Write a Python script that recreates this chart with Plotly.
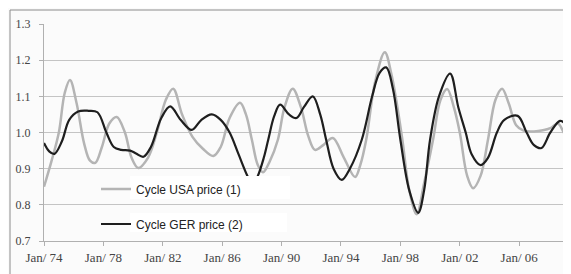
import plotly.graph_objects as go
from datetime import datetime, timedelta

# ---- data (decimal years / index values) ----
usa_years = [1974.0, 1974.5, 1975.0, 1975.4, 1975.75, 1976.2, 1976.7, 1977.1, 1977.45, 1977.9,
             1978.4, 1978.9, 1979.45, 1979.9, 1980.35, 1981.0, 1981.6, 1982.2, 1982.7, 1983.3,
             1984.0, 1984.7, 1985.4, 1985.9, 1986.5, 1987.2, 1987.6, 1988.0, 1988.4, 1988.75,
             1989.2, 1989.75, 1990.2, 1990.75, 1991.3, 1991.8, 1992.25, 1992.8, 1993.45, 1994.2,
             1994.95, 1995.3, 1995.7, 1996.3, 1996.95, 1997.4, 1998.1, 1998.6, 1999.1, 1999.6,
             2000.2, 2000.7, 2001.15, 2001.6, 2002.0, 2002.5, 2002.9, 2003.4, 2003.9, 2004.4,
             2004.85, 2005.3, 2005.8, 2006.3, 2007.0, 2007.6, 2008.1, 2008.6, 2009.0, 2009.5]
usa_values = [0.85, 0.92, 1.0, 1.11, 1.145, 1.08, 0.97, 0.922, 0.916, 0.96,
              1.025, 1.043, 1.0, 0.93, 0.902, 0.93, 1.0, 1.09, 1.121, 1.05,
              0.988, 0.955, 0.935, 0.96, 1.04, 1.082, 1.05, 0.98, 0.91, 0.89,
              0.92, 0.98, 1.07, 1.121, 1.07, 0.99, 0.952, 0.965, 0.985, 0.93,
              0.877, 0.91, 0.98, 1.14, 1.222, 1.16, 0.99, 0.84, 0.774, 0.86,
              0.98, 1.09, 1.12, 1.07, 1.0, 0.88, 0.846, 0.88, 0.98, 1.09,
              1.121, 1.08, 1.02, 1.005, 1.003, 1.006, 1.012, 1.025, 1.0, 0.952]

ger_years = [1974.0, 1974.35, 1974.7, 1975.2, 1975.7, 1976.3, 1977.0, 1977.6, 1978.2, 1978.7,
             1979.2, 1979.8, 1980.2, 1980.7, 1981.2, 1981.9, 1982.5, 1983.2, 1983.95, 1984.6,
             1985.3, 1985.9, 1986.5, 1987.1, 1987.7, 1988.05, 1988.4, 1988.8, 1989.1, 1989.5,
             1989.9, 1990.5, 1991.0, 1991.5, 1992.1, 1992.6, 1993.0, 1993.5, 1994.05, 1994.6,
             1995.4, 1996.1, 1996.6, 1997.05, 1997.5, 1998.0, 1998.6, 1999.2, 1999.6, 2000.0,
             2000.6, 2001.35, 2001.9, 2002.4, 2002.8, 2003.4, 2003.9, 2004.5, 2005.0, 2005.9,
             2006.5, 2007.0, 2007.5, 2008.1, 2008.75, 2009.1, 2009.5]
ger_values = [0.971, 0.948, 0.941, 0.975, 1.035, 1.058, 1.06, 1.056, 1.0, 0.96,
              0.952, 0.95, 0.942, 0.933, 0.96, 1.04, 1.072, 1.035, 1.007, 1.035,
              1.05, 1.035, 1.0, 0.94, 0.88, 0.855, 0.88, 0.93, 0.98, 1.045,
              1.077, 1.05, 1.04, 1.07, 1.1, 1.05, 0.98, 0.9, 0.869, 0.9,
              0.98, 1.1, 1.165, 1.18, 1.12, 0.98, 0.84, 0.778, 0.84, 0.98,
              1.1, 1.163, 1.07, 1.0, 0.94, 0.91, 0.93, 1.0, 1.035, 1.046,
              1.0, 0.965, 0.957, 1.0, 1.032, 1.025, 1.005]

tick_years = [1974, 1978, 1982, 1986, 1990, 1994, 1998, 2002, 2006]
tick_labels = ["Jan/ 74", "Jan/ 78", "Jan/ 82", "Jan/ 86", "Jan/ 90",
               "Jan/ 94", "Jan/ 98", "Jan/ 02", "Jan/ 06"]
y_ticks = [0.7, 0.8, 0.9, 1.0, 1.1, 1.2, 1.3]
series_names = ["Cycle USA price (1)", "Cycle GER price (2)"]


def to_date(y):
    yi = int(y)
    start = datetime(yi, 1, 1)
    end = datetime(yi + 1, 1, 1)
    return start + timedelta(seconds=(end - start).total_seconds() * (y - yi))


fig = go.Figure()
fig.add_trace(go.Scatter(
    x=[to_date(v) for v in usa_years], y=usa_values, mode="lines",
    name=series_names[0], line=dict(color="#b4b4b4", width=2.5, shape="spline", smoothing=1.0),
    legend="legend"))
fig.add_trace(go.Scatter(
    x=[to_date(v) for v in ger_years], y=ger_values, mode="lines",
    name=series_names[1], line=dict(color="#1e1e1e", width=2.2, shape="spline", smoothing=1.0),
    legend="legend2"))

serif = "Liberation Serif, Times New Roman, serif"
sans = "Liberation Sans, Arial, sans-serif"

# the page body has an 8px margin; figure is placed at page (8, 8)
OFF = 8
FIG_W, FIG_H = 571 - OFF, 274 - OFF
# plot area in page pixels: x 44..571 (cropped at right), y 24..241
L, R, T, B = 44, 571, 24, 241
W, H = R - L, B - T


def px(xp):
    return (xp - L) / W


def py(yp):
    return (B - yp) / H


shapes = [
    # chart border (top + left visible)
    dict(type="line", xref="paper", yref="paper", x0=px(10), x1=px(600), y0=py(10), y1=py(10),
         line=dict(color="#8c8c8c", width=1), layer="below"),
    dict(type="line", xref="paper", yref="paper", x0=px(10), x1=px(10), y0=py(10), y1=py(300),
         line=dict(color="#8c8c8c", width=1), layer="below"),
    # white boxes behind legend text
    dict(type="rect", xref="paper", yref="paper", x0=px(130), x1=px(290), y0=py(199), y1=py(176),
         fillcolor="white", line=dict(width=0), layer="above"),
    dict(type="rect", xref="paper", yref="paper", x0=px(130), x1=px(287), y0=py(232), y1=py(213),
         fillcolor="white", line=dict(width=0), layer="above"),
]

fig.update_layout(
    width=FIG_W, height=FIG_H,
    margin=dict(l=L - OFF, r=571 - R, t=T - OFF, b=274 - B),
    paper_bgcolor="#fbfbfb",
    plot_bgcolor="#fbfbfb",
    shapes=shapes,
    legend=dict(x=px(96), y=py(189), xanchor="left", yanchor="middle",
                bgcolor="rgba(0,0,0,0)", font=dict(family=sans, size=12, color="#222"),
                itemwidth=30),
    legend2=dict(x=px(96), y=py(224), xanchor="left", yanchor="middle",
                 bgcolor="rgba(0,0,0,0)", font=dict(family=sans, size=12, color="#222"),
                 itemwidth=30),
    showlegend=True,
)

fig.update_xaxes(
    type="date",
    range=[to_date(1974.0), to_date(2009.49)],
    tickvals=[datetime(y, 1, 1) for y in tick_years],
    ticktext=tick_labels,
    showgrid=False, zeroline=False,
    showline=True, linecolor="#b0b0b0", linewidth=1,
    ticks="outside", ticklen=4, tickcolor="#b0b0b0",
    tickfont=dict(family=serif, size=13, color="#444"),
)
fig.update_yaxes(
    range=[0.7, 1.3],
    tickvals=y_ticks, tickformat=".1f",
    showgrid=True, gridcolor="#c4c4c4", gridwidth=1,
    zeroline=False,
    showline=True, linecolor="#b0b0b0", linewidth=1,
    ticks="outside", ticklen=4, tickcolor="#b0b0b0",
    ticklabelstandoff=6,
    tickfont=dict(family=serif, size=12, color="#444"),
)

fig.write_html("out.html")
